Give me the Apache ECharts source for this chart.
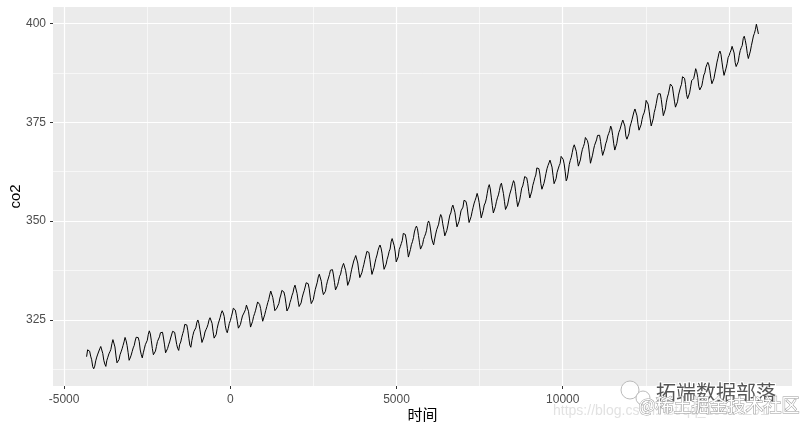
<!DOCTYPE html>
<html><head><meta charset="utf-8">
<script src="https://cdn.jsdelivr.net/npm/echarts@6/dist/echarts.min.js"></script>
<style>html,body{margin:0;padding:0;background:#fff}#c{width:800px;height:431px}</style>
</head><body><div id="c"></div>
<script>
// Monthly CO2 (ppm), starting March 1958
const startYear = 1958, startMonth = 3;
const co2_1958_1964 = [
  315.71,317.45,317.50,317.10,315.86,314.93,313.20,312.66,313.33,314.67,
  315.62,316.38,316.71,317.72,318.29,318.15,316.54,314.80,313.84,313.26,314.80,315.58,
  316.43,316.97,317.58,319.02,320.03,319.59,318.18,315.91,314.16,313.83,315.00,316.19,
  316.93,317.70,318.54,319.48,320.58,319.77,318.57,316.79,314.80,315.38,316.10,317.01,
  317.94,318.56,319.68,320.63,321.01,320.55,319.58,317.40,316.26,315.42,316.69,317.69,
  318.74,319.08,319.86,321.39,322.25,321.47,319.74,317.77,316.21,315.99,317.12,318.31,
  319.57,320.07,320.73,321.77,322.25,321.89,320.44,318.70,316.70,316.79,317.79,318.71
];
const co2_1965_1974 = [
  319.44,320.44,320.89,322.13,322.16,321.87,321.39,318.81,317.81,317.30,318.87,319.42,
  320.62,321.59,322.39,323.87,324.01,323.75,322.39,320.37,318.64,318.10,319.79,321.08,
  322.07,322.50,323.04,324.42,325.00,324.09,322.55,320.92,319.31,319.31,320.72,321.96,
  322.57,323.15,323.89,325.02,325.57,325.36,324.14,322.03,320.41,320.25,321.31,322.84,
  324.00,324.42,325.64,326.66,327.34,326.76,325.88,323.67,322.38,321.78,322.85,324.11,
  324.83,325.82,326.77,327.97,327.91,327.50,326.18,324.53,322.93,322.90,323.85,324.96,
  326.01,326.51,327.01,327.62,328.76,328.40,327.20,325.27,323.20,323.40,324.63,325.85,
  326.60,327.47,327.58,329.56,329.90,328.92,327.88,326.16,324.68,325.04,326.34,327.39,
  328.37,329.40,330.14,331.33,332.31,331.90,330.70,329.15,327.35,327.02,327.99,328.48,
  329.18,330.55,331.32,332.48,332.92,332.08,331.01,329.23,327.27,327.21,328.29,329.41
];
const co2_1975_1984 = [
  330.23,331.25,331.87,333.14,333.80,333.43,331.73,329.90,328.40,328.17,329.32,330.59,
  331.58,332.39,333.33,334.41,334.71,334.17,332.89,330.77,329.14,328.78,330.14,331.52,
  332.75,333.24,334.53,335.90,336.57,336.10,334.76,332.59,331.42,330.98,332.24,333.68,
  334.80,335.22,336.47,337.59,337.84,337.72,336.37,334.51,332.60,332.38,333.75,334.78,
  336.05,336.59,337.79,338.71,339.30,339.12,337.56,335.92,333.75,333.70,335.12,336.56,
  337.84,338.19,339.91,340.60,341.29,341.00,339.39,337.43,335.72,335.84,336.93,338.04,
  339.06,340.30,341.21,342.33,342.74,342.08,340.32,338.26,336.52,336.68,338.19,339.44,
  340.57,341.44,342.53,343.39,343.96,343.18,341.88,339.65,337.81,337.69,339.09,340.32,
  341.20,342.35,342.93,344.77,345.58,345.14,343.81,342.21,339.69,339.82,340.98,342.82,
  343.52,344.33,345.11,346.88,347.25,346.62,345.22,343.11,340.90,341.18,342.80,344.04
];
const co2_1985_1994 = [
  344.79,345.82,347.25,348.17,348.74,348.07,346.38,344.51,342.92,342.62,344.06,345.38,
  346.11,346.78,347.68,349.37,350.03,349.37,347.76,345.73,344.68,343.99,345.48,346.72,
  347.84,348.29,349.23,350.80,351.66,351.07,349.33,347.92,346.27,346.18,347.64,348.78,
  350.25,351.54,352.05,353.41,354.04,353.62,352.22,350.27,348.55,348.72,349.91,351.18,
  352.60,352.92,353.53,355.26,355.52,354.97,353.75,351.52,349.64,349.83,351.14,352.37,
  353.50,354.55,355.23,356.04,357.00,356.07,354.67,352.76,350.82,351.04,352.69,354.07,
  354.59,355.63,357.03,358.48,359.22,358.12,356.06,353.92,352.05,352.11,353.64,354.89,
  355.88,356.63,357.72,359.07,359.58,359.17,356.94,354.92,352.94,353.23,354.09,355.33,
  356.63,357.10,358.32,359.41,360.23,359.55,357.53,355.48,353.67,353.95,355.30,356.78,
  358.34,358.89,359.95,361.25,361.67,360.94,359.55,357.49,355.84,356.00,357.58,359.04
];
const co2_1995_2004 = [
  359.97,361.00,361.64,363.45,363.79,363.26,361.90,359.46,358.06,357.75,359.56,360.70,
  362.05,363.25,364.03,364.72,365.41,364.97,363.65,361.49,359.46,359.60,360.76,362.33,
  363.18,363.99,364.56,366.36,366.80,365.63,364.47,362.50,360.19,360.78,362.43,364.28,
  365.33,366.15,367.31,368.61,369.29,368.87,367.64,365.77,363.90,364.23,365.46,366.97,
  368.15,368.87,369.59,371.14,371.00,370.35,369.27,366.94,364.63,365.12,366.67,368.01,
  369.14,369.46,370.52,371.66,371.82,371.70,370.12,368.12,366.62,366.73,368.29,369.53,
  370.28,371.50,372.12,372.87,374.02,373.30,371.62,369.55,367.96,368.09,369.68,371.24,
  372.44,373.08,373.52,374.85,375.55,375.40,374.02,371.49,370.71,370.25,372.08,373.78,
  374.68,375.63,376.11,377.65,378.35,378.13,376.62,374.50,372.99,373.00,374.35,375.70,
  376.79,377.37,378.41,380.52,380.63,379.57,377.79,375.86,374.06,374.24,375.86,377.48
];
const co2_2005_2013 = [
  378.47,379.76,381.14,382.20,382.47,382.20,380.78,378.73,376.66,376.98,378.29,380.07,
  381.36,382.19,382.65,384.65,384.94,384.01,382.15,380.33,378.81,379.06,380.17,381.85,
  382.89,383.90,384.58,386.50,386.56,386.10,384.50,381.99,380.96,381.12,382.45,383.95,
  385.52,385.82,386.03,387.21,388.54,387.76,386.36,384.09,383.18,382.99,384.19,385.56,
  386.94,387.48,388.82,389.55,390.14,389.48,388.03,386.11,384.74,384.43,386.02,387.42,
  388.71,390.20,391.17,392.46,393.00,392.15,390.20,388.35,386.85,387.24,388.67,389.79,
  391.33,391.86,392.60,393.25,394.19,393.74,392.51,390.13,389.08,389.00,390.28,391.86,
  393.12,393.86,394.40,396.18,396.74,395.71,394.36,392.39,391.11,391.05,392.98,394.34,
  395.55,396.80,397.43,398.41,399.78,398.61,397.32
];
// labelled ticks (15000 label hidden by overlay in the original)
const xTicks = [-5000, 0, 5000, 10000];
const yTicks = [325, 350, 375, 400];
// grid line positions
const xGridMajor = [-5000, 0, 5000, 10000, 15000];
const xGridMinor = [-2500, 2500, 7500, 12500];
const yGridMajor = [325, 350, 375, 400];
const yGridMinor = [312.5, 337.5, 362.5, 387.5];
const xTitle = '时间';
const yTitle = 'co2';

const co2 = [].concat(co2_1958_1964, co2_1965_1974, co2_1975_1984, co2_1985_1994, co2_1995_2004, co2_2005_2013);
// x = days since 1970-01-01 for each month
const data = co2.map((v, i) => {
  const m = startMonth - 1 + i;
  const days = Date.UTC(startYear + Math.floor(m / 12), m % 12, 1) / 86400000;
  return [days, v];
});
const xs = data.map(d => d[0]);
const xMin0 = Math.min(...xs), xMax0 = Math.max(...xs);
const yMin0 = Math.min(...co2), yMax0 = Math.max(...co2);
const xPad = (xMax0 - xMin0) * 0.05, yPad = (yMax0 - yMin0) * 0.05;
const xr = [xMin0 - xPad, xMax0 + xPad], yr = [yMin0 - yPad, yMax0 + yPad];

const chart = echarts.init(document.getElementById('c'), null, {renderer: 'canvas'});
const labelFont = 'Liberation Sans, Arial, sans-serif';
const gridAxis = (range, vals, width, pos) => ({
  type: 'value', min: range[0], max: range[1], position: pos,
  axisLine: {show: false, onZero: false},
  axisTick: {show: false, customValues: vals},
  axisLabel: {show: false, customValues: vals},
  splitLine: {show: true, lineStyle: {color: '#fff', width: width}}
});
chart.setOption({
  animation: false,
  backgroundColor: '#ffffff',
  grid: {left: 53, right: 8, top: 7, bottom: 45, show: true, backgroundColor: '#EBEBEB', borderWidth: 0,
         containLabel: false, outerBoundsMode: 'none'},
  xAxis: [
    gridAxis(xr, xGridMinor, 0.6, 'bottom'),
    gridAxis(xr, xGridMajor, 1.2, 'bottom'),
    {
      type: 'value', min: xr[0], max: xr[1], position: 'bottom',
      name: xTitle, nameLocation: 'middle', nameGap: 21, nameMoveOverlap: false,
      nameTextStyle: {color: '#000', fontSize: 15, fontFamily: 'Noto Sans CJK SC, sans-serif'},
      axisLine: {show: false, onZero: false},
      axisTick: {show: true, length: 3, lineStyle: {color: '#333', width: 1}, customValues: xTicks},
      axisLabel: {color: '#4D4D4D', fontSize: 12, fontFamily: labelFont, margin: 8, customValues: xTicks,
                  formatter: v => String(v)},
      splitLine: {show: false}
    }
  ],
  yAxis: [
    gridAxis(yr, yGridMinor, 0.6, 'left'),
    gridAxis(yr, yGridMajor, 1.2, 'left'),
    {
      type: 'value', min: yr[0], max: yr[1], position: 'left',
      name: yTitle, nameLocation: 'middle', nameGap: 30, nameRotate: 90, nameMoveOverlap: false,
      nameTextStyle: {color: '#000', fontSize: 15, fontFamily: labelFont},
      axisLine: {show: false, onZero: false},
      axisTick: {show: true, length: 3, lineStyle: {color: '#333', width: 1}, customValues: yTicks},
      axisLabel: {color: '#4D4D4D', fontSize: 12, fontFamily: labelFont, margin: 7, customValues: yTicks,
                  formatter: v => String(v)},
      splitLine: {show: false}
    }
  ],
  series: [{
    type: 'line', data: data, xAxisIndex: 2, yAxisIndex: 2, showSymbol: false, symbol: 'none',
    lineStyle: {color: '#000', width: 1}, silent: true
  }],
  graphic: [
    {type: 'text', left: 553, top: 404, silent: true,
     style: {text: 'https://blog.csdn.net/qq_19600291', fontSize: 14, fill: '#e2e2e2', fontFamily: labelFont}},
    {type: 'circle', shape: {cx: 630, cy: 390, r: 9}, silent: true, style: {fill: 'rgba(255,255,255,0.8)', stroke: '#bbb', lineWidth: 1}},
    {type: 'circle', shape: {cx: 643, cy: 398, r: 7}, silent: true, style: {fill: 'rgba(255,255,255,0.8)', stroke: '#bbb', lineWidth: 1}},
    {type: 'text', left: 655, top: 381, silent: true,
     style: {text: '拓端数据部落', fontSize: 20, fill: '#555', stroke: '#fff', lineWidth: 2, fontFamily: 'Noto Sans CJK SC, sans-serif'}},
    {type: 'text', left: 638, top: 396, silent: true,
     style: {text: '@稀土掘金技术社区', fontSize: 18, fill: '#fff', stroke: '#999', lineWidth: 1, fontFamily: 'Noto Sans CJK SC, sans-serif'}}
  ]
});
</script>
</body></html>
